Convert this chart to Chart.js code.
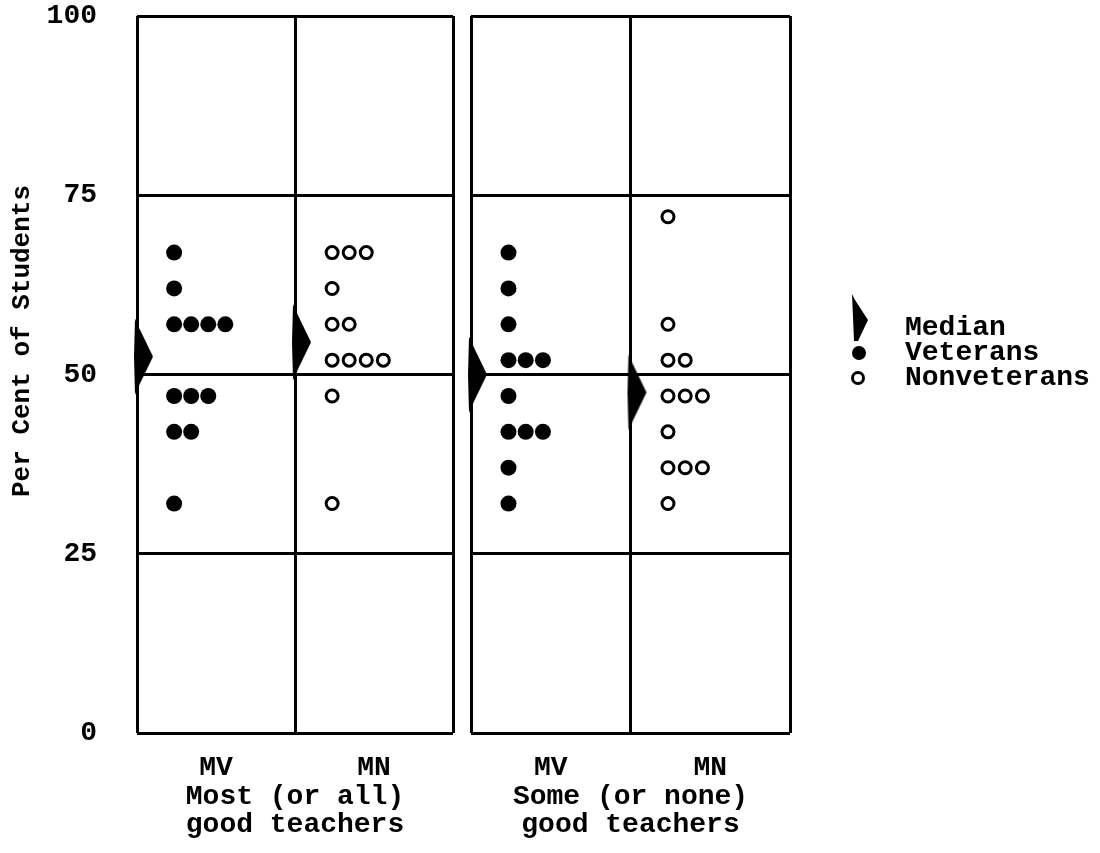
<!DOCTYPE html>
<html><head><meta charset="utf-8">
<script src="https://cdn.jsdelivr.net/npm/chart.js@4.4.1/dist/chart.umd.min.js"></script>
<style>
html,body{margin:0;padding:0;background:#fff;}
#wrap{position:relative;width:1100px;height:853px;overflow:hidden;background:#fff;}
canvas{position:absolute;top:0;}
</style></head><body>
<div id="wrap">
<canvas id="c1" width="462" height="853" style="left:0px"></canvas>
<canvas id="c2" width="638" height="853" style="left:462px"></canvas>
</div>
<script>
// ---------- data ----------
const columnLabels = ['MV', 'MN'];
const groupTitles = [['Most (or all)', 'good teachers'], ['Some (or none)', 'good teachers']];
const yTickValues = [0, 25, 50, 75, 100];
const yAxisTitle = 'Per Cent of Students';
const legendLabels = ['Median', 'Veterans', 'Nonveterans'];

// Most (or all) good teachers
const mostVetPercents = [67, 62, 57, 47, 42, 32];
const mostVetCounts   = [1, 1, 4, 3, 2, 1];
const mostNonPercents = [67, 62, 57, 52, 47, 32];
const mostNonCounts   = [3, 1, 2, 4, 1, 1];
const mostMedians     = [52.5, 54.5];   // MV, MN

// Some (or none) good teachers
const someVetPercents = [67, 62, 57, 52, 47, 42, 37, 32];
const someVetCounts   = [1, 1, 1, 3, 1, 3, 1, 1];
const someNonPercents = [72, 57, 52, 47, 42, 37, 32];
const someNonCounts   = [1, 1, 2, 3, 1, 3, 1];
const someMedians     = [50, 47.5];     // MV, MN

// ---------- styling ----------
const FONT = "'Liberation Mono', 'DejaVu Sans Mono', monospace";
const INK = '#000';
const DOT_START = 0.235, DOT_STEP = 0.108;

function dotPoints(col, percents, counts) {
  const pts = [];
  percents.forEach((p, i) => {
    for (let k = 0; k < counts[i]; k++) pts.push({x: col + DOT_START + k * DOT_STEP, y: p});
  });
  return pts;
}

function medianMarker(w, h) {
  const c = document.createElement('canvas');
  c.width = 2 * w + 8; c.height = h;
  const cx = w + 4;
  const g = c.getContext('2d');
  g.fillStyle = INK;
  g.beginPath();
  g.moveTo(cx - 2, 0);
  g.lineTo(cx + 2, h * 0.12);
  g.lineTo(cx + w, h * 0.5);
  g.lineTo(cx + 2, h * 0.88);
  g.lineTo(cx - 2, h);
  g.lineTo(cx - 3, h * 0.5);
  g.closePath();
  g.fill();
  return c;
}
const medImg = medianMarker(16, 76);

function datasets(vetP, vetC, nonP, nonC, medians) {
  return [
    {label: legendLabels[0], data: medians.map((m, i) => ({x: i, y: m})),
     pointStyle: medImg, clip: false, order: 0},
    {label: legendLabels[1], data: dotPoints(0, vetP, vetC), pointStyle: 'circle',
     pointRadius: 8, backgroundColor: INK, borderWidth: 0, clip: false},
    {label: legendLabels[2], data: dotPoints(1, nonP, nonC), pointStyle: 'circle',
     pointRadius: 6, backgroundColor: '#fff', borderColor: INK, borderWidth: 3, clip: false}
  ];
}

function scales(isFirst, titleLines) {
  return {
    x: {
      type: 'linear', min: 0, max: 2,
      afterBuildTicks: s => { s.ticks = [0, 0.5, 1, 1.5, 2].map(v => ({value: v})); },
      ticks: {autoSkip: false, maxRotation: 0, minRotation: 0, padding: 18, color: INK,
              font: {family: FONT, size: 28, weight: 'bold'},
              callback: v => (Math.abs(v % 1 - 0.5) < 1e-6) ? columnLabels[Math.floor(v)] : ''},
      grid: {color: c => (c.tick && Math.abs(c.tick.value % 1) < 1e-6) ? INK : 'rgba(0,0,0,0)',
             lineWidth: 3, drawTicks: false},
      border: {display: false},
      title: {display: true, text: titleLines, color: INK,
              font: {family: FONT, size: 28, lineHeight: 1.0, weight: 'bold'}, padding: {top: 0, bottom: 14}},
      afterFit: s => { s.height = 120; s.paddingLeft = 0; s.paddingRight = 0; }
    },
    y: {
      type: 'linear', min: 0, max: 100,
      afterBuildTicks: s => { s.ticks = yTickValues.map(v => ({value: v})); },
      ticks: {display: isFirst, padding: 40, color: INK, font: {family: FONT, size: 28, weight: 'bold'}},
      grid: {color: INK, lineWidth: 3, drawTicks: false},
      border: {display: false},
      afterFit: s => { s.width = isFirst ? 137 : 0; s.paddingTop = 0; s.paddingBottom = 0; }
    }
  };
}

const yTitlePlugin = {
  id: 'yTitle',
  afterDraw(chart) {
    const ctx = chart.ctx;
    ctx.save();
    ctx.translate(22, 341);
    ctx.rotate(-Math.PI / 2);
    ctx.fillStyle = INK;
    ctx.font = "bold 26px " + FONT;
    ctx.textAlign = 'center';
    ctx.textBaseline = 'middle';
    ctx.fillText(yAxisTitle, 0, 0);
    ctx.restore();
  }
};

const sideLegendPlugin = {
  id: 'sideLegend',
  afterDraw(chart) {
    const ctx = chart.ctx;
    const mx = 852 - 462, tx = 905 - 462;
    const rows = [328, 353, 378];
    ctx.save();
    ctx.fillStyle = INK;
    // median symbol
    ctx.beginPath();
    ctx.moveTo(mx, 294);
    ctx.lineTo(mx + 3, 300);
    ctx.lineTo(mx + 16, 320);
    ctx.lineTo(mx + 6, 341);
    ctx.lineTo(mx + 2, 341);
    ctx.closePath();
    ctx.fill();
    // veterans dot
    ctx.beginPath();
    ctx.arc(mx + 7, rows[1], 7, 0, Math.PI * 2);
    ctx.fill();
    // nonveterans circle
    ctx.beginPath();
    ctx.lineWidth = 3;
    ctx.strokeStyle = INK;
    ctx.arc(mx + 6, rows[2], 5.5, 0, Math.PI * 2);
    ctx.stroke();
    ctx.font = "bold 28px " + FONT;
    ctx.textAlign = 'left';
    ctx.textBaseline = 'middle';
    legendLabels.forEach((t, i) => ctx.fillText(t, tx, rows[i]));
    ctx.restore();
  }
};

function makeChart(id, isFirst, dsets, titleLines, padding, plugins) {
  return new Chart(document.getElementById(id), {
    type: 'scatter',
    data: {datasets: dsets},
    options: {
      responsive: false, animation: false, events: [],
      layout: {padding: padding},
      plugins: {legend: {display: false}, tooltip: {enabled: false}},
      scales: scales(isFirst, titleLines)
    },
    plugins: plugins
  });
}

makeChart('c1', true,
  datasets(mostVetPercents, mostVetCounts, mostNonPercents, mostNonCounts, mostMedians),
  groupTitles[0], {left: 0, right: 9, top: 16, bottom: 0}, [yTitlePlugin]);
makeChart('c2', false,
  datasets(someVetPercents, someVetCounts, someNonPercents, someNonCounts, someMedians),
  groupTitles[1], {left: 9, right: 310, top: 16, bottom: 0}, [sideLegendPlugin]);
</script>
</body></html>
